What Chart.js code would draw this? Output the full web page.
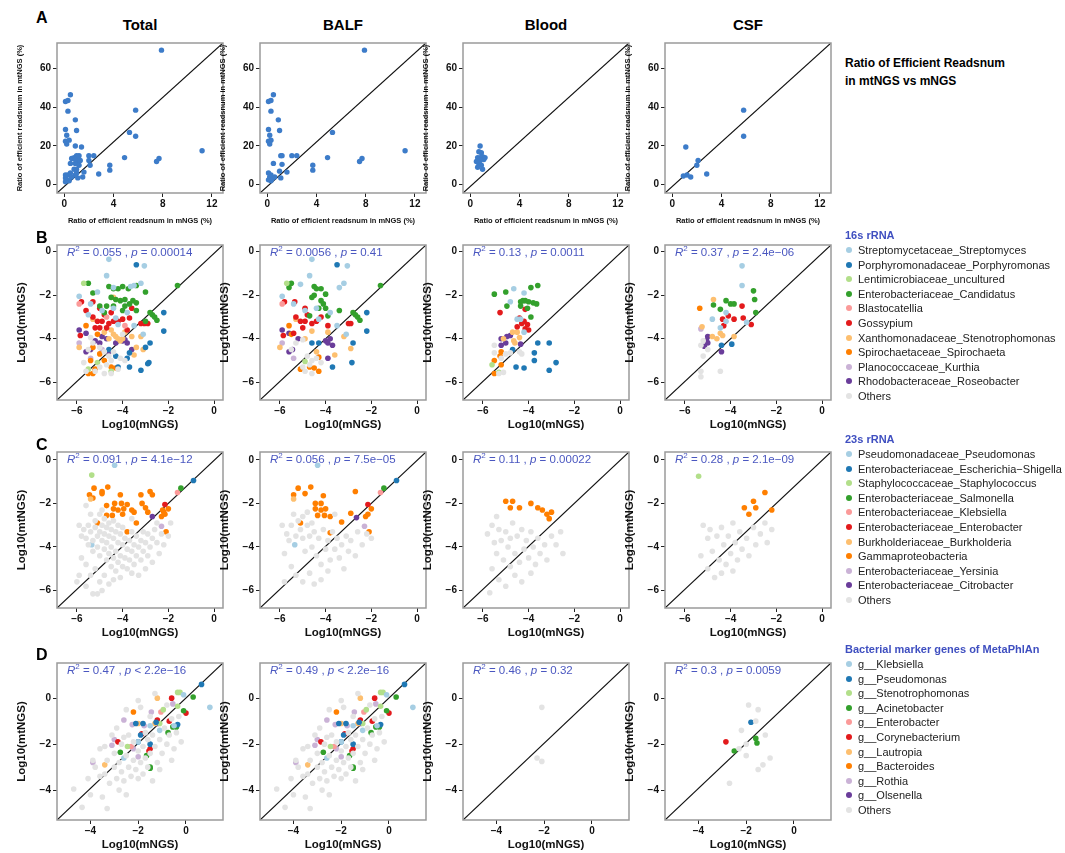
<!DOCTYPE html>
<html>
<head>
<meta charset="utf-8">
<script src="https://cdn.jsdelivr.net/npm/chart.js@4"></script>
<style>
  body { margin: 0; background: #fff; font-family: "Liberation Sans", Arial, sans-serif; }
  #wrap { position: relative; width: 1065px; height: 853px; }
  .abs { position: absolute; }
  .letter { font-weight: bold; font-size: 16px; }
  .coltitle { font-weight: bold; font-size: 15px; text-align: center; width: 166px; }
  .stat { font-size: 11.5px; color: #4a57c0; white-space: nowrap; line-height: 14px; }
  .stat sup { font-size: 8px; vertical-align: 5px; line-height: 0; }
  .legtitle { font-weight: bold; font-size: 11px; color: #3f4fc0; }
  .legitem { font-size: 11px; color: #222; white-space: nowrap; }
  .dot { display: inline-block; width: 6px; height: 6px; border-radius: 50%; margin-right: 6px; vertical-align: 1px; }
</style>
</head>
<body>
<div id="wrap"></div>
<script>
const colTitles = ["Total", "BALF", "Blood", "CSF"];
const palette = ["#a6cee3", "#1f78b4", "#b2df8a", "#33a02c", "#fb9a99", "#e31a1c",
                 "#fdbf6f", "#ff7f00", "#cab2d6", "#6a3d9a", "#e3e3e3"];

const legend16s = ["Streptomycetaceae_Streptomyces", "Porphyromonadaceae_Porphyromonas",
  "Lentimicrobiaceae_uncultured", "Enterobacteriaceae_Candidatus", "Blastocatellia", "Gossypium",
  "Xanthomonadaceae_Stenotrophomonas", "Spirochaetaceae_Spirochaeta", "Planococcaceae_Kurthia",
  "Rhodobacteraceae_Roseobacter", "Others"];
const legend23s = ["Pseudomonadaceae_Pseudomonas", "Enterobacteriaceae_Escherichia\u2212Shigella",
  "Staphylococcaceae_Staphylococcus", "Enterobacteriaceae_Salmonella", "Enterobacteriaceae_Klebsiella",
  "Enterobacteriaceae_Enterobacter", "Burkholderiaceae_Burkholderia", "Gammaproteobacteria",
  "Enterobacteriaceae_Yersinia", "Enterobacteriaceae_Citrobacter", "Others"];
const legendMeta = ["g__Klebsiella", "g__Pseudomonas", "g__Stenotrophomonas", "g__Acinetobacter",
  "g__Enterobacter", "g__Corynebacterium", "g__Lautropia", "g__Bacteroides", "g__Rothia",
  "g__Olsenella", "Others"];

// row A: ratio of efficient readsnum (mNGS %, mtNGS %)
const A_total = [[0.1,43],[0.3,43.5],[0.5,46.5],[0.3,38],[0.9,33.5],[1,28],[0.1,28.5],[0.2,25.5],[0.1,22.5],[0.4,23],[0.2,21],[0.9,20],[1.4,19.5],[5.8,38.5],[5.3,27],[5.8,25],[7.9,69.5],[11.2,17.5],[7.7,13.5],[7.5,12],[4.9,14],[3.7,10],[3.7,7.5],[2.8,5.5],[2,15],[2.4,15],[2,12.5],[2.1,10],[1.6,6.5],[1.5,4],[1.1,3.5],[1.2,15],[1,15],[0.8,14],[0.6,13.5],[1.1,12.5],[0.9,11],[1.2,10],[0.5,11],[0.8,8],[1,6],[0.9,5],[0.5,6],[0.3,5],[0.1,5],[0.1,3.5],[0.2,2.5],[0.4,2],[0.6,4],[0.1,1.5],[1.3,12.5],[1,8],[1.1,14.5],[0.9,13]];
const A_balf = [[0.1,43],[0.3,43.5],[0.5,46.5],[0.3,38],[0.9,33.5],[1,28],[0.1,28.5],[0.2,25.5],[0.1,22.5],[0.3,23],[0.2,21],[5.3,27],[7.9,69.5],[11.2,17.5],[7.7,13.5],[7.5,12],[4.9,14],[3.7,10],[3.7,7.5],[2,15],[2.4,15],[1.6,6.5],[1.1,3.5],[1.1,15],[1.2,15],[0.5,11],[1.2,10.5],[1,7],[0.1,6],[0.3,5],[0.2,4],[0.4,3],[0.1,2.5],[0.3,2],[0.6,4]];
const A_blood = [[0.8,20],[0.7,17],[0.9,16.5],[0.6,14],[0.8,14],[1,14.5],[1.1,13],[0.5,12],[0.7,11],[0.9,10],[1.2,14],[1,8],[0.6,9],[0.8,12.5]];
const A_csf = [[5.8,38.5],[5.8,25],[1.1,19.5],[2.1,12.5],[2,10],[2.8,5.5],[1.2,5],[0.9,4.5],[1.5,4]];

// row B: 16s rRNA, one list per legend category
const B_total = [
  [[-4.6,-0.35],[-3.05,-0.65],[-4.7,-1.1],[-3.2,-1.45],[-3.5,-1.55],[-3.65,-1.6],[-4.4,-1.65],[-5.1,-1.85],[-5.9,-2.05],[-5.4,-2.4],[-4.4,-2.6],[-3.8,-2.8],[-4.3,-3.05],[-4.2,-3.35],[-3.5,-3.4],[-3.1,-3.8],[-5.5,-2.9],[-4.9,-2.7]],
  [[-3.4,-0.6],[-2.2,-2.8],[-2.2,-3.65],[-2.8,-4.2],[-3.0,-4.4],[-3.7,-4.65],[-2.85,-5.1],[-2.9,-5.15],[-3.2,-5.45],[-3.7,-5.3],[-4.6,-4.5],[-4.3,-4.8],[-3.8,-4.9],[-4.2,-5.3]],
  [[-5.7,-1.45],[-5.1,-5.1],[-4.5,-5.5],[-5.5,-5.4]],
  [[-5.5,-1.45],[-5.3,-1.9],[-4.6,-1.6],[-4.4,-1.7],[-4.2,-1.7],[-4.0,-1.6],[-3.75,-1.7],[-3.4,-1.55],[-3.0,-1.85],[-1.6,-1.55],[-5.0,-2.5],[-4.7,-2.5],[-4.5,-2.1],[-4.3,-2.2],[-4.1,-2.25],[-3.9,-2.2],[-3.7,-2.4],[-3.55,-2.25],[-3.4,-2.35],[-4.8,-2.8],[-4.0,-2.7],[-2.8,-2.8],[-2.7,-2.9],[-2.6,-3.0],[-2.5,-3.15],[-3.4,-2.7],[-3.9,-2.5],[-4.4,-2.5],[-3.0,-3.2]],
  [[-5.9,-2.4],[-4.7,-3.0],[-3.9,-3.4]],
  [[-5.8,-2.3],[-5.3,-2.3],[-5.0,-2.6],[-4.8,-2.9],[-5.3,-3.0],[-5.1,-3.2],[-4.9,-3.2],[-4.6,-3.3],[-4.4,-3.2],[-4.2,-3.2],[-4.0,-3.1],[-3.7,-3.05],[-3.6,-2.6],[-3.2,-3.3],[-3.05,-3.3],[-2.9,-3.3],[-5.2,-3.5],[-5.0,-3.5],[-4.7,-3.5],[-5.85,-3.85],[-5.6,-2.7],[-3.8,-3.6],[-4.5,-2.8]],
  [[-4.4,-2.1],[-5.3,-3.1],[-4.5,-3.6],[-4.4,-3.8],[-4.3,-3.9],[-4.2,-4.0],[-4.1,-4.1],[-4.0,-4.0],[-3.9,-3.7],[-3.6,-3.9],[-3.2,-3.9],[-3.4,-4.4],[-3.1,-4.5],[-3.5,-4.75],[-5.9,-4.4],[-4.8,-3.7],[-4.6,-4.0]],
  [[-5.6,-3.4],[-5.1,-3.8],[-5.3,-4.4],[-5.0,-4.7],[-5.4,-5.0],[-4.8,-5.0],[-5.5,-5.6],[-5.3,-5.6],[-4.5,-5.3],[-4.3,-5.35],[-5.2,-5.4]],
  [[-5.9,-4.2],[-5.4,-4.9],[-4.9,-4.5]],
  [[-5.9,-3.6],[-5.6,-3.75],[-5.2,-4.1],[-5.0,-4.2],[-4.9,-3.9],[-4.7,-4.0],[-4.3,-4.2],[-4.0,-4.1],[-3.8,-4.2],[-3.9,-4.05],[-5.6,-4.6],[-5.4,-4.5],[-3.6,-4.5],[-4.6,-4.6]],
  [[-5.5,-4.5],[-5.3,-4.2],[-5.0,-4.4],[-4.8,-4.6],[-4.6,-4.8],[-4.5,-5.0],[-4.7,-5.2],[-5.0,-5.3],[-5.2,-5.5],[-4.8,-5.6],[-4.5,-5.6],[-5.6,-5.5],[-4.2,-5.4],[-4.1,-4.9],[-3.9,-5.0],[-5.7,-5.1],[-4.4,-4.6],[-5.4,-3.95],[-4.0,-3.8]]
];
const B_balf = [
  [[-4.6,-0.35],[-3.05,-0.65],[-4.7,-1.1],[-5.1,-1.5],[-3.2,-1.45],[-3.4,-1.65],[-5.9,-2.05],[-5.4,-2.4],[-4.4,-2.6],[-3.8,-2.8],[-4.3,-3.1],[-3.5,-3.4],[-3.1,-3.8],[-4.9,-2.7]],
  [[-3.5,-0.6],[-2.2,-2.8],[-2.2,-3.65],[-2.8,-4.2],[-2.85,-5.1],[-3.7,-5.3],[-4.6,-4.2],[-4.3,-4.2]],
  [[-5.7,-1.45],[-4.9,-5.05]],
  [[-5.5,-1.45],[-5.6,-1.65],[-4.5,-1.6],[-4.4,-1.7],[-4.2,-1.7],[-4.0,-1.95],[-4.6,-2.1],[-4.5,-2.0],[-4.2,-2.25],[-4.1,-2.4],[-3.4,-2.7],[-2.8,-2.8],[-2.7,-2.9],[-2.6,-3.0],[-2.5,-3.15],[-4.3,-2.6],[-3.9,-2.95],[-4.7,-2.95],[-1.6,-1.55],[-4.0,-2.6]],
  [[-5.9,-2.4]],
  [[-5.8,-2.3],[-5.35,-2.3],[-4.9,-2.6],[-4.8,-2.9],[-5.3,-3.0],[-5.1,-3.2],[-4.9,-3.2],[-4.6,-3.3],[-4.4,-3.2],[-4.2,-3.0],[-3.0,-3.3],[-2.9,-3.3],[-3.9,-3.4],[-5.0,-3.5],[-5.85,-3.85],[-5.4,-3.75]],
  [[-5.3,-3.1],[-4.9,-4.0],[-4.6,-3.65],[-3.9,-3.7],[-3.6,-4.75],[-3.2,-3.9],[-2.9,-4.45],[-4.4,-4.6],[-6.0,-4.4]],
  [[-5.6,-3.4],[-5.5,-3.8],[-5.1,-5.4],[-4.7,-5.3],[-4.5,-5.35],[-4.3,-5.5],[-4.3,-4.85]],
  [[-5.9,-4.2],[-5.4,-4.9]],
  [[-5.9,-3.6],[-5.6,-3.75],[-5.2,-4.0],[-5.6,-4.6],[-5.45,-4.5],[-4.0,-4.1],[-3.9,-4.2],[-3.8,-4.0],[-3.9,-4.9],[-3.7,-4.3]],
  [[-5.5,-4.5],[-5.3,-4.2],[-4.8,-4.8],[-4.6,-5.0],[-4.7,-5.2],[-4.9,-5.5],[-4.6,-5.6],[-5.0,-5.3],[-4.4,-4.9],[-4.2,-5.1],[-5.0,-4.05]]
];
const B_blood = [
  [[-4.65,-1.7],[-4.2,-1.9],[-4.8,-2.3],[-4.5,-3.1],[-4.35,-3.1],[-4.2,-3.7]],
  [[-3.6,-4.2],[-3.1,-4.2],[-3.75,-4.65],[-3.75,-5.0],[-2.8,-5.1],[-3.1,-5.45],[-4.55,-5.3],[-4.2,-5.35],[-4.7,-4.5]],
  [[-5.6,-5.2],[-5.3,-5.55]],
  [[-5.5,-1.95],[-5.0,-1.85],[-4.95,-2.5],[-4.35,-2.3],[-4.25,-2.25],[-4.15,-2.25],[-4.0,-2.3],[-3.8,-2.35],[-3.65,-2.4],[-3.9,-1.65],[-3.6,-1.55],[-4.35,-2.5],[-4.05,-2.6],[-3.9,-3.0]],
  [],
  [[-5.25,-2.8],[-4.15,-2.65],[-4.4,-3.05],[-4.2,-3.2],[-4.05,-3.35],[-4.5,-3.45],[-4.15,-3.55],[-4.0,-3.6],[-4.3,-3.3]],
  [[-4.7,-3.7],[-4.5,-3.7],[-4.65,-4.1],[-4.6,-4.2],[-4.4,-3.95],[-5.1,-4.0]],
  [[-5.2,-4.6],[-5.25,-4.8],[-5.5,-5.0],[-5.2,-5.2],[-5.5,-5.6]],
  [],
  [[-4.8,-3.85],[-4.95,-3.9],[-5.2,-4.0],[-5.2,-4.3],[-5.0,-4.2],[-4.35,-4.25]],
  [[-5.5,-4.3],[-5.5,-4.65],[-5.0,-4.7],[-4.8,-4.65],[-4.4,-4.6],[-4.3,-4.7],[-5.3,-5.6],[-5.1,-5.55],[-5.2,-4.9]]
];
const B_csf = [
  [[-3.5,-0.65],[-3.5,-1.55],[-4.2,-2.8],[-4.8,-3.1],[-4.2,-3.2],[-4.45,-3.5],[-3.3,-3.25]],
  [[-3.95,-4.25],[-4.4,-4.3]],
  [],
  [[-3.0,-1.8],[-2.95,-2.2],[-4.2,-2.25],[-4.0,-2.4],[-3.85,-2.4],[-4.45,-2.65],[-4.75,-2.45],[-2.9,-2.8]],
  [],
  [[-3.5,-2.5],[-4.1,-2.95],[-4.35,-3.1],[-3.45,-3.05],[-3.85,-3.1],[-4.3,-3.4],[-3.1,-3.35]],
  [[-4.75,-2.2],[-5.25,-3.45],[-4.8,-3.9],[-4.6,-4.0],[-4.45,-3.75],[-4.35,-3.85],[-3.85,-3.9]],
  [[-5.35,-2.6]],
  [[-5.3,-3.55]],
  [[-5.0,-3.9],[-5.05,-4.1],[-5.0,-4.2],[-5.15,-4.35],[-4.4,-4.6]],
  [[-5.3,-4.3],[-5.2,-4.1],[-5.2,-4.8],[-5.3,-5.5],[-5.3,-5.75],[-4.45,-5.5],[-5.0,-4.5]]
];

// row C: 23s rRNA
const C_total = [
  [[-4.35,-0.25],[-5.35,-3.9]],
  [[-0.9,-0.95]],
  [[-5.35,-0.7]],
  [[-1.45,-1.3]],
  [[-1.6,-1.5]],
  [[-2.15,-2.05]],
  [[-5.4,-1.8]],
  [[-5.45,-1.6],[-5.25,-1.3],[-4.9,-1.45],[-4.9,-1.55],[-4.65,-1.25],[-5.3,-1.75],[-4.35,-2.0],[-4.4,-2.25],[-4.1,-1.6],[-4.05,-2.0],[-3.95,-2.25],[-4.0,-2.5],[-3.8,-2.05],[-3.6,-2.3],[-3.5,-2.4],[-3.2,-1.6],[-3.15,-2.0],[-3.0,-2.2],[-2.8,-1.45],[-2.7,-1.6],[-2.9,-2.4],[-2.25,-2.3],[-2.2,-2.4],[-2.0,-2.25],[-2.3,-2.6],[-2.15,-2.5],[-4.45,-2.55],[-4.7,-2.1],[-4.2,-2.3],[-3.4,-2.9],[-5.1,-2.9],[-3.8,-3.3],[-2.1,-3.3],[-4.7,-2.55]],
  [[-2.3,-3.05]],
  [[-2.7,-2.6]],
  [[-5.9,-3.0],[-5.8,-3.5],[-5.7,-3.2],[-5.6,-3.6],[-5.5,-3.0],[-5.5,-3.9],[-5.4,-2.5],[-5.4,-3.3],[-5.3,-3.7],[-5.3,-4.2],[-5.2,-2.8],[-5.2,-3.1],[-5.1,-3.5],[-5.1,-4.0],[-5.0,-2.5],[-5.0,-3.3],[-5.0,-4.4],[-4.9,-3.0],[-4.9,-3.7],[-4.8,-2.7],[-4.8,-3.4],[-4.8,-4.1],[-4.7,-3.1],[-4.7,-3.8],[-4.7,-4.6],[-4.6,-2.9],[-4.6,-3.5],[-4.6,-4.3],[-4.5,-3.2],[-4.5,-4.0],[-4.5,-4.9],[-4.4,-2.8],[-4.4,-3.6],[-4.4,-4.5],[-4.3,-3.3],[-4.3,-4.2],[-4.3,-5.1],[-4.2,-3.0],[-4.2,-3.8],[-4.2,-4.7],[-4.1,-3.4],[-4.1,-4.4],[-4.1,-5.4],[-4.0,-3.1],[-4.0,-3.9],[-4.0,-4.9],[-3.9,-3.6],[-3.9,-4.5],[-3.8,-4.1],[-3.8,-5.0],[-3.7,-3.7],[-3.7,-4.6],[-3.6,-3.3],[-3.6,-4.2],[-3.6,-5.2],[-3.5,-3.9],[-3.5,-4.8],[-3.4,-3.5],[-3.4,-4.4],[-3.3,-4.0],[-3.3,-5.3],[-3.2,-3.7],[-3.2,-4.6],[-3.1,-3.3],[-3.1,-4.2],[-3.0,-3.8],[-3.0,-5.0],[-2.9,-3.4],[-2.9,-4.4],[-2.8,-4.0],[-2.7,-3.6],[-2.7,-4.7],[-2.6,-3.2],[-2.5,-3.8],[-2.4,-4.3],[-2.3,-3.4],[-2.2,-3.9],[-2.0,-3.5],[-1.9,-2.9],[-2.5,-2.9],[-5.8,-4.5],[-5.6,-4.8],[-5.4,-5.3],[-5.2,-5.0],[-5.0,-5.6],[-4.8,-5.3],[-4.6,-5.7],[-4.4,-5.5],[-5.6,-5.8],[-5.3,-6.15],[-5.1,-6.15],[-4.9,-6.0],[-5.9,-5.3],[-6.0,-5.6],[-3.6,-2.7],[-4.9,-2.3],[-5.6,-2.1]]
];
const C_balf = [
  [[-4.35,-0.25],[-5.35,-3.9]],
  [[-0.9,-0.95]],
  [],
  [[-1.45,-1.3]],
  [[-1.6,-1.5]],
  [[-2.15,-2.05]],
  [[-5.4,-1.8]],
  [[-5.4,-1.6],[-5.2,-1.3],[-4.9,-1.55],[-4.65,-1.25],[-4.45,-2.0],[-4.45,-2.25],[-4.2,-2.0],[-4.2,-2.3],[-4.1,-1.65],[-4.0,-2.25],[-4.35,-2.55],[-4.05,-2.55],[-3.8,-2.6],[-2.7,-1.45],[-2.9,-2.45],[-2.25,-2.6],[-2.15,-2.5],[-2.0,-2.25],[-3.3,-2.85],[-3.8,-3.35],[-2.1,-3.3],[-5.1,-2.9]],
  [[-2.3,-3.05]],
  [[-2.65,-2.65]],
  [[-5.9,-3.0],[-5.7,-3.4],[-5.6,-3.7],[-5.5,-3.0],[-5.4,-2.5],[-5.3,-3.5],[-5.2,-2.8],[-5.1,-3.2],[-5.0,-2.6],[-5.0,-3.6],[-4.9,-4.2],[-4.8,-3.0],[-4.7,-3.5],[-4.6,-2.9],[-4.6,-4.0],[-4.5,-3.3],[-4.4,-4.4],[-4.3,-3.6],[-4.2,-4.8],[-4.1,-3.2],[-4.0,-4.1],[-3.9,-3.7],[-3.8,-4.6],[-3.7,-3.3],[-3.6,-4.1],[-3.5,-3.6],[-3.4,-4.5],[-3.3,-3.9],[-3.2,-5.0],[-3.1,-3.5],[-3.0,-4.2],[-2.9,-3.7],[-2.7,-4.4],[-2.6,-3.3],[-2.4,-3.9],[-2.2,-3.4],[-2.0,-3.6],[-5.8,-4.3],[-5.5,-4.9],[-5.3,-5.3],[-5.0,-5.6],[-4.7,-5.2],[-4.5,-5.7],[-4.2,-5.5],[-5.8,-5.6],[-3.9,-5.1],[-4.8,-2.4],[-3.6,-2.5]]
];
const C_blood = [
  [], [], [], [], [], [], [],
  [[-5.0,-1.9],[-4.7,-1.9],[-4.8,-2.2],[-3.9,-2.0],[-3.6,-2.2],[-3.4,-2.3],[-3.2,-2.5],[-3.0,-2.4],[-3.1,-2.7],[-4.4,-2.2]],
  [], [],
  [[-5.8,-3.4],[-5.6,-3.0],[-5.5,-3.8],[-5.4,-4.3],[-5.3,-3.2],[-5.2,-3.7],[-5.1,-4.6],[-5.0,-3.3],[-4.9,-4.0],[-4.8,-3.6],[-4.8,-4.9],[-4.7,-2.9],[-4.6,-4.3],[-4.5,-3.5],[-4.4,-4.7],[-4.3,-3.2],[-4.2,-4.1],[-4.1,-3.7],[-4.0,-4.5],[-3.9,-3.3],[-3.8,-4.0],[-3.7,-4.8],[-3.6,-3.6],[-3.5,-4.3],[-3.3,-3.9],[-3.2,-4.6],[-3.0,-3.5],[-2.8,-3.9],[-2.6,-3.3],[-2.5,-4.3],[-5.6,-5.0],[-5.3,-5.5],[-5.0,-5.8],[-4.6,-5.3],[-4.3,-5.6],[-5.7,-6.1],[-3.9,-5.2],[-5.4,-2.6]]
];
const C_csf = [
  [], [],
  [[-5.4,-0.75]],
  [], [], [], [],
  [[-3.0,-1.9],[-2.9,-2.2],[-2.5,-1.5],[-2.2,-2.3],[-3.2,-2.5],[-3.4,-2.2]],
  [], [],
  [[-5.2,-3.0],[-5.0,-3.6],[-4.9,-3.2],[-4.8,-4.2],[-4.6,-3.5],[-4.5,-4.6],[-4.4,-3.1],[-4.3,-3.9],[-4.2,-4.8],[-4.1,-3.5],[-4.0,-4.3],[-3.9,-2.9],[-3.8,-3.8],[-3.7,-4.6],[-3.6,-3.3],[-3.5,-4.1],[-3.3,-3.6],[-3.2,-4.4],[-3.0,-3.1],[-2.9,-3.9],[-2.7,-3.4],[-2.5,-2.9],[-2.4,-3.8],[-5.0,-5.0],[-4.7,-5.4],[-4.4,-5.2],[-3.9,-5.1],[-5.3,-4.4],[-2.2,-3.2]]
];

// row D: bacterial marker genes of MetaPhlAn
const D_total = [
  [[1.0,-0.4],[-0.1,0.15],[-0.5,-1.2],[-1.1,-1.4],[-2.6,-2.6],[-2.0,-1.9],[-1.5,-1.2]],
  [[0.65,0.6],[-2.1,-1.1],[-1.8,-1.1],[-1.9,-1.6],[-1.5,-2.0],[-0.35,-1.15],[-1.25,-1.05],[-2.0,-1.9]],
  [[-0.35,0.25],[-0.25,0.25],[-0.95,-0.5],[-0.35,-0.35],[-2.45,-2.1],[-1.1,-1.1]],
  [[0.3,0.05],[-0.1,-0.55],[-0.4,-1.25],[-0.55,-1.25],[-0.75,-1.5],[-1.5,-3.0],[-1.5,-3.05],[-2.75,-2.35],[-1.65,-2.5]],
  [[-1.05,-0.6],[-2.3,-2.1]],
  [[-0.6,0.0],[0.0,-0.65],[-0.7,-1.0],[-1.2,-0.95],[-2.85,-1.9],[-1.5,-2.2],[-1.55,-2.3],[-1.85,-1.55]],
  [[-1.2,0.0],[-2.0,-1.1],[-3.4,-2.9],[-1.3,-1.1]],
  [[-2.2,-0.6]],
  [[-0.55,-0.25],[-1.45,-0.6],[-2.6,-0.95],[-2.25,-1.15],[-1.75,-1.2],[-3.0,-1.8],[-3.1,-2.05],[-2.2,-2.2],[-3.9,-2.8],[-2.0,-2.55]],
  [[-1.2,-1.1]],
  [[-4.7,-3.95],[-4.35,-4.75],[-4.0,-4.2],[-3.3,-4.8],[-2.5,-4.2],[-3.6,-3.4],[-3.8,-3.0],[-3.4,-3.3],[-3.2,-3.7],[-3.0,-3.0],[-2.9,-3.5],[-2.8,-2.8],[-2.7,-3.2],[-2.6,-3.6],[-2.5,-2.5],[-2.4,-3.0],[-2.3,-3.4],[-2.2,-2.7],[-2.1,-3.1],[-2.0,-2.3],[-2.0,-3.5],[-1.9,-2.8],[-1.8,-2.1],[-1.8,-3.3],[-1.7,-2.6],[-1.6,-1.8],[-1.6,-3.0],[-1.5,-2.4],[-1.4,-1.6],[-1.3,-2.1],[-1.2,-2.8],[-1.1,-1.8],[-1.0,-2.4],[-0.9,-1.3],[-0.8,-2.0],[-0.7,-1.6],[-0.6,-0.9],[-0.5,-2.2],[-0.4,-1.5],[-0.3,-0.8],[-0.2,-1.9],[-3.0,-2.4],[-3.3,-2.7],[-2.7,-2.0],[-2.4,-1.6],[-2.9,-1.3],[-2.5,-0.5],[-1.9,-0.4],[-1.5,-0.8],[-3.1,-1.6],[-3.6,-2.2],[-3.9,-2.7],[-2.2,-1.9],[-1.7,-1.5],[-2.8,-4.0],[-1.1,-3.1],[-0.6,-2.7],[-1.4,-3.6],[-4.1,-3.5],[-3.5,-4.3],[-2.0,-0.1],[-1.3,0.2],[-0.8,-0.3],[-3.4,-2.1],[-2.6,-1.7]]
];
const D_balf = D_total; // BALF panel is practically identical to Total in the reference
const D_blood = [[], [], [], [], [], [], [], [], [], [], [[-2.1,-0.4],[-2.3,-2.6],[-2.1,-2.75]]];
const D_csf = [
  [], [[-1.8,-1.05]], [], [[-2.5,-2.3],[-1.6,-1.75],[-1.55,-1.95]], [], [[-2.85,-1.9]], [], [], [], [],
  [[-1.9,-0.3],[-1.5,-0.5],[-1.6,-1.0],[-2.2,-1.4],[-2.0,-2.0],[-2.3,-2.2],[-1.0,-2.6],[-1.3,-2.9],[-1.5,-3.1],[-2.7,-3.7],[-2.0,-2.5],[-1.2,-1.6]]
];

const statsB = ["0.055 , <i>p</i> = 0.00014", "0.0056 , <i>p</i> = 0.41", "0.13 , <i>p</i> = 0.0011", "0.37 , <i>p</i> = 2.4e\u221206"];
const statsC = ["0.091 , <i>p</i> = 4.1e\u221212", "0.056 , <i>p</i> = 7.5e\u221205", "0.11 , <i>p</i> = 0.00022", "0.28 , <i>p</i> = 2.1e\u221209"];
const statsD = ["0.47 , <i>p</i> &lt; 2.2e\u221216", "0.49 , <i>p</i> &lt; 2.2e\u221216", "0.46 , <i>p</i> = 0.32", "0.3 , <i>p</i> = 0.0059"];

const colLeft = [57, 260, 463, 665];
const plotW = 166;
const rows = [
  { top: 38, h: 155, data: [A_total, A_balf, A_blood, A_csf], single: true,
    x: [-0.59, 12.9], y: [-4.3, 73.2], xt: [0, 4, 8, 12], yt: [0, 20, 40, 60],
    xl: "Ratio of efficient readsnum in mNGS (%)", yl: "Ratio of efficient readsnum in mtNGS (%)" },
  { top: 240, h: 160, data: [B_total, B_balf, B_blood, B_csf], stats: statsB,
    x: [-6.87, 0.39], y: [-6.82, 0.31], xt: [-6, -4, -2, 0], yt: [-6, -4, -2, 0],
    xl: "Log10(mNGS)", yl: "Log10(mtNGS)" },
  { top: 447, h: 161, data: [C_total, C_balf, C_blood, C_csf], stats: statsC,
    x: [-6.87, 0.39], y: [-6.8, 0.36], xt: [-6, -4, -2, 0], yt: [-6, -4, -2, 0],
    xl: "Log10(mNGS)", yl: "Log10(mtNGS)" },
  { top: 658, h: 162, data: [D_total, D_balf, D_blood, D_csf], stats: statsD,
    x: [-5.4, 1.55], y: [-5.3, 1.53], xt: [-4, -2, 0], yt: [-4, -2, 0],
    xl: "Log10(mNGS)", yl: "Log10(mtNGS)" }
];

const wrap = document.getElementById("wrap");
function addDiv(cls, html, left, top) {
  const d = document.createElement("div");
  d.className = "abs " + cls;
  d.innerHTML = html;
  d.style.left = left + "px";
  d.style.top = top + "px";
  wrap.appendChild(d);
  return d;
}

const frame = {
  id: "frame",
  afterDatasetsDraw(chart) {
    const a = chart.chartArea, c = chart.ctx;
    c.save();
    c.strokeStyle = "#9a9a9a";
    c.lineWidth = 1.5;
    c.strokeRect(a.left, a.top, a.right - a.left, a.bottom - a.top);
    c.restore();
  }
};

const LEFT = 46, BOTTOM = 36, PADT = 3, PADR = 5;

function makePanel(row, ci) {
  const cv = document.createElement("canvas");
  const w = LEFT + plotW + PADR, h = PADT + row.h + BOTTOM;
  const box = document.createElement("div");
  box.className = "abs";
  box.style.left = (colLeft[ci] - LEFT) + "px";
  box.style.top = (row.top - PADT) + "px";
  box.style.width = w + "px";
  box.style.height = h + "px";
  box.appendChild(cv);
  wrap.appendChild(box);

  const datasets = [];
  if (row.single) {
    datasets.push({ data: row.data[ci].map(p => ({ x: p[0], y: p[1] })), backgroundColor: "#3d7cc9", pointRadius: 2.7 });
  } else {
    // Others first so coloured points sit on top
    const order = [10, 0, 1, 2, 3, 4, 5, 6, 7, 8, 9];
    order.forEach(k => {
      datasets.push({ data: row.data[ci][k].map(p => ({ x: p[0], y: p[1] })), backgroundColor: palette[k], pointRadius: 2.8 });
    });
  }
  datasets.push({ type: "line", data: [{ x: row.x[0], y: row.y[0] }, { x: row.x[1], y: row.y[1] }],
    borderColor: "#111", borderWidth: 1.2, pointRadius: 0 });

  const small = !!row.single;
  const tickFont = { family: "Liberation Sans", size: 10, weight: "bold" };
  const titleFont = { family: "Liberation Sans", size: small ? 7.5 : 11.5, weight: "bold" };
  new Chart(cv, {
    type: "scatter",
    data: { datasets },
    plugins: [frame],
    options: {
      responsive: true, maintainAspectRatio: false, animation: false,
      layout: { padding: { top: PADT, right: PADR, left: 0, bottom: 0 } },
      plugins: { legend: { display: false }, tooltip: { enabled: false } },
      elements: { point: { borderWidth: 0 } },
      scales: {
        x: {
          type: "linear", min: row.x[0], max: row.x[1],
          afterBuildTicks: s => { s.ticks = row.xt.map(v => ({ value: v })); },
          afterFit: s => { s.height = BOTTOM; },
          grid: { drawOnChartArea: false, tickLength: 4, color: "#222" },
          border: { display: false },
          ticks: { font: tickFont, color: "#111", padding: 1, callback: v => String(v).replace("-", "\u2212") },
          title: { display: true, text: row.xl, font: titleFont, color: "#111", padding: { top: 0 } }
        },
        y: {
          type: "linear", min: row.y[0], max: row.y[1],
          afterBuildTicks: s => { s.ticks = row.yt.map(v => ({ value: v })); },
          afterFit: s => { s.width = LEFT; },
          grid: { drawOnChartArea: false, tickLength: 4, color: "#222" },
          border: { display: false },
          ticks: { font: tickFont, color: "#111", padding: 2, callback: v => String(v).replace("-", "\u2212") },
          title: { display: true, text: row.yl, font: titleFont, color: "#111", padding: { bottom: 0 } }
        }
      }
    }
  });

  if (row.stats) {
    addDiv("stat", "<i>R</i><sup>2</sup> = " + row.stats[ci], colLeft[ci] + 10, row.top + 5);
  }
}

rows.forEach(row => row.data.forEach((_, ci) => makePanel(row, ci)));

colTitles.forEach((t, i) => addDiv("coltitle", t, colLeft[i], 16));
addDiv("letter", "A", 36, 9);
addDiv("letter", "B", 36, 229);
addDiv("letter", "C", 36, 436);
addDiv("letter", "D", 36, 646);
addDiv("", "<b style='font-size:12px;line-height:15px'>Ratio of Efficient Readsnum<br>in mtNGS vs mNGS</b>", 845, 53);

function addLegend(title, items, top) {
  addDiv("legtitle", title, 845, top);
  items.forEach((name, k) => {
    addDiv("legitem", "<span class='dot' style='background:" + palette[k] + "'></span>" + name, 846, top + 15 + k * 14.6);
  });
}
addLegend("16s rRNA", legend16s, 229);
addLegend("23s rRNA", legend23s, 433);
addLegend("Bacterial marker genes of MetaPhlAn", legendMeta, 643);
</script>
</body>
</html>
